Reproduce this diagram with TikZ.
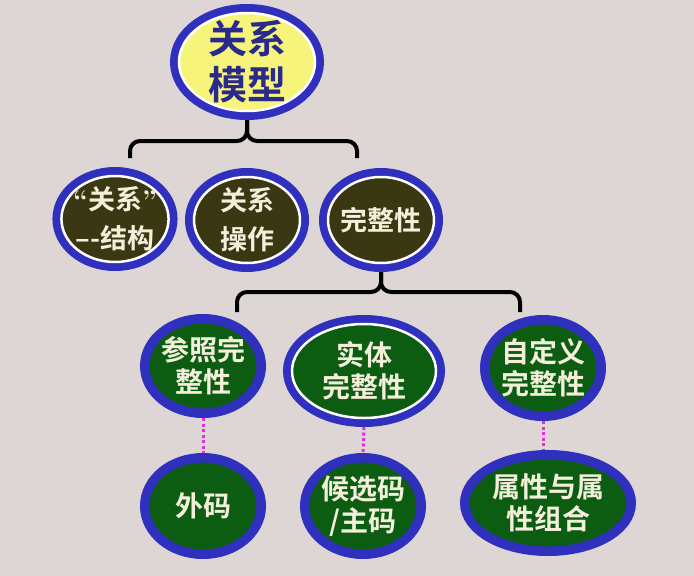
\documentclass[tikz,border=0pt]{standalone}
\usepackage{fontspec}
\usepackage{xcolor}
\usepackage{tikz}
\usetikzlibrary{shapes.geometric}
\newfontfamily\cjk{Noto Sans CJK SC Bold}
\definecolor{paper}{HTML}{DDD6D4}
\definecolor{ringblue}{HTML}{3030BE}
\definecolor{olive}{HTML}{3A3812}
\definecolor{leaf}{HTML}{0C5C12}
\definecolor{lemon}{HTML}{F7F47C}
\definecolor{ink}{HTML}{2A2A8C}
\definecolor{chalk}{HTML}{F3EFDA}
\definecolor{pink}{HTML}{E030E0}

\tikzset{
    bubble/.style={ellipse, inner sep=-4pt, outer sep=9pt, align=center,
        preaction={draw=ringblue, line width=18pt}, draw=ringblue, line width=1pt,
        text=chalk, font=\cjk\fontsize{28}{32}\selectfont},
    ringed/.style={draw=white, line width=2.5pt},
    brace/.style={line width=4pt, rounded corners=10pt},
    dots/.style={pink, line width=3pt, dash pattern=on 3pt off 2.5pt}
}

\begin{document}
\begin{tikzpicture}[x=1pt, y=-1pt]
    \fill[paper] (0, 0) rectangle (694, 576);
    \useasboundingbox (0, 0) rectangle (694, 576);

    \node[bubble, ringed, fill=lemon, text=ink, minimum width=136, minimum height=98, inner sep=-10pt,
        font=\cjk\fontsize{39}{46}\selectfont] (model) at (247, 62) {关系\\模型};

    \node[bubble, ringed, fill=olive, minimum width=106, minimum height=86,
        font=\cjk\fontsize{27}{39}\selectfont] (struct) at (115, 219)
        {{\rmfamily\bfseries “}关系{\rmfamily\bfseries ”}\\–-结构};
    \node[bubble, ringed, fill=olive, minimum width=106, minimum height=86,
        font=\cjk\fontsize{27}{39}\selectfont] (ops) at (247, 220) {关系\\操作};
    \node[bubble, ringed, fill=olive, minimum width=106, minimum height=86,
        font=\cjk\fontsize{27}{39}\selectfont] (integ) at (381, 220) {完整性};

    \node[bubble, fill=leaf, minimum width=108, minimum height=86] (refint) at (203, 366) {参照完\\整性};
    \node[bubble, ringed, fill=leaf, minimum width=144, minimum height=94] (entint) at (364, 371) {实体\\完整性};
    \node[bubble, fill=leaf, minimum width=108, minimum height=88] (userint) at (543, 368) {自定义\\完整性};

    \node[bubble, fill=leaf, minimum width=108, minimum height=88] (fkey) at (203, 506) {外码};
    \node[bubble, fill=leaf, minimum width=108, minimum height=88] (pkey) at (363, 506) {候选码\\/主码};
    \node[bubble, fill=leaf, minimum width=158, minimum height=88] (attr) at (548, 503) {属性与属\\性组合};

    \coordinate (b1l) at (130, 158);
    \coordinate (b1r) at (357, 158);
    \draw[brace] (b1l) |- ([yshift=-21pt]model.south) -- (model.south);
    \draw[brace] (b1r) |- ([yshift=-21pt]model.south) -- (model.south);

    \coordinate (b2l) at (237, 312);
    \coordinate (b2r) at (520, 312);
    \draw[brace] (b2l) |- ([yshift=-20pt]integ.south) -- (integ.south);
    \draw[brace] (b2r) |- ([yshift=-20pt]integ.south) -- (integ.south);

    \draw[dots] (refint.south) -- (fkey.north);
    \draw[dots] (entint.south) -- (pkey.north);
    \draw[dots] (userint.south) -- (userint.south |- attr.north);
\end{tikzpicture}
\end{document}
